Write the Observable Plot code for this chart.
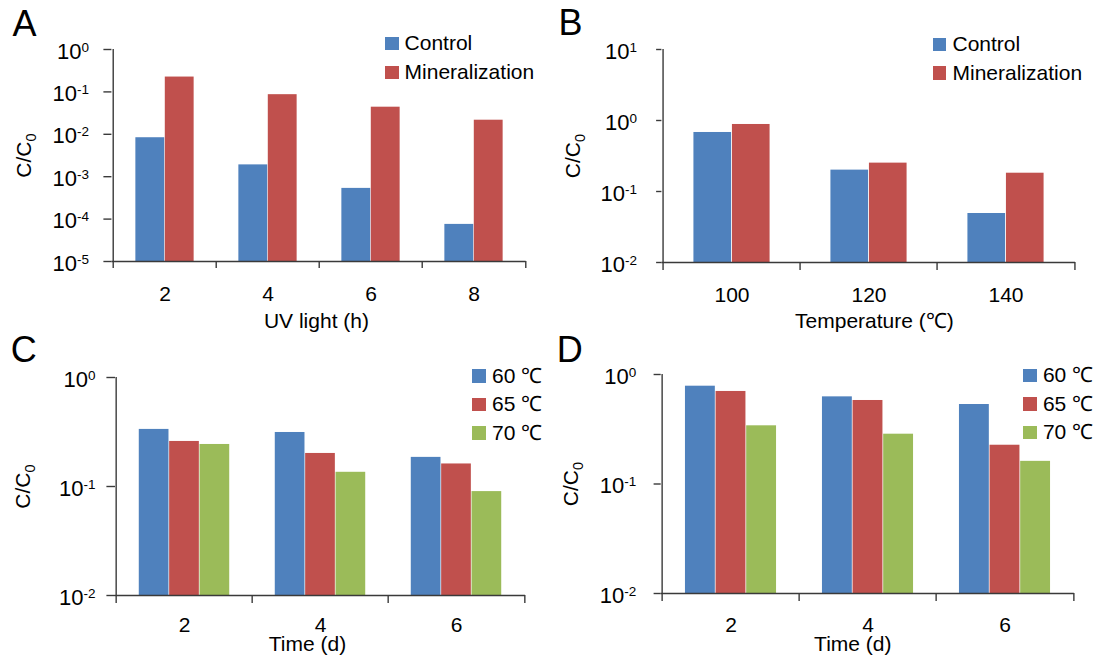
<!DOCTYPE html>
<html><head><meta charset="utf-8">
<script src="https://cdn.jsdelivr.net/npm/d3@7"></script>
<script src="https://cdn.jsdelivr.net/npm/@observablehq/plot@0.6"></script>
<style>
body{margin:0;background:#fff;}
#fig{position:relative;width:1098px;height:659px;overflow:hidden;background:#fff;font-family:"Liberation Sans",Arial,sans-serif;color:#000;}
.panel{position:absolute;}
.letter{position:absolute;font-size:36px;line-height:36px;white-space:nowrap;}
.lg-sw{position:absolute;width:13.5px;height:13.5px;}
.lg-tx{position:absolute;font-size:21px;line-height:21px;white-space:nowrap;}
</style></head><body><div id="fig"></div>
<script>
const blue = "#4F81BD", red = "#C0504D", green = "#9BBB59";
const axisColor = "#3a3a3a";

// Panel A
const catsA = ["2", "4", "6", "8"];
const controlA = [0.0083, 0.0019, 0.00053, 0.000075];
const mineralA = [0.224, 0.086, 0.0436, 0.0215];
const yticksA = [1e-5, 1e-4, 1e-3, 1e-2, 1e-1, 1];
// Panel B
const catsB = ["100", "120", "140"];
const controlB = [0.678, 0.20, 0.049];
const mineralB = [0.879, 0.251, 0.181];
const yticksB = [1e-2, 1e-1, 1, 10];
// Panels C, D
const catsCD = ["2", "4", "6"];
const c60 = [0.334, 0.313, 0.185];
const c65 = [0.259, 0.201, 0.161];
const c70 = [0.243, 0.135, 0.0898];
const d60 = [0.782, 0.625, 0.532];
const d65 = [0.70, 0.579, 0.226];
const d70 = [0.34, 0.285, 0.161];
const yticksCD = [1e-2, 1e-1, 1];
const seriesAB = ["Control", "Mineralization"];
const seriesCD = ["60 ℃", "65 ℃", "70 ℃"];

const fig = document.getElementById("fig");
const NS = "http://www.w3.org/2000/svg";

function panel(o) {
  const rows = [];
  o.series.forEach(s => o.cats.forEach((c, i) => rows.push({cat: c, series: s.name, value: s.values[i]})));
  const bw = (o.width - o.ml - o.mr) / o.cats.length;
  const m = o.series.length, p = o.pad, f = 1 / (m + 2 * p);
  const bars = o.series.map((s, k) => Plot.barY(rows.filter(r => r.series === s.name), {
    x: "cat", y1: o.ymin, y2: "value", fill: s.color,
    insetLeft: bw * (p + k) * f, insetRight: bw * (m - k - 1 + p) * f
  }));
  const chart = Plot.plot({
    width: o.width, height: o.height,
    marginLeft: o.ml, marginRight: o.mr, marginTop: o.mt, marginBottom: o.mb,
    style: {fontFamily: '"Liberation Sans", Arial, sans-serif', fontSize: "21px", color: "#000", background: "transparent", overflow: "visible"},
    x: {domain: o.cats, padding: 0},
    y: {type: "log", domain: [o.ymin, o.ymax]},
    marks: [
      ...bars,
      Plot.ruleY([o.ymin], {stroke: axisColor, strokeWidth: 1.4}),
      Plot.ruleX([o.cats[0]], {dx: -bw / 2, stroke: axisColor, strokeWidth: 1.4}),
      Plot.axisY({ticks: o.yticks, tickSize: o.ytickLen, tickFormat: () => "", stroke: axisColor, strokeWidth: 1.4, label: null}),
      Plot.axisY({ticks: o.yticks, tickSize: 0, tickPadding: o.ylabPad, fontSize: 22, dy: 2,
        tickFormat: d => "10^" + Math.round(Math.log10(d)), label: null}),
      Plot.axisX({ticks: o.cats, tickSize: o.xtickLen, tickFormat: () => "", dx: -bw / 2, stroke: axisColor, strokeWidth: 1.4, label: null}),
      Plot.axisX({ticks: [o.cats[o.cats.length - 1]], tickSize: o.xtickLen, tickFormat: () => "", dx: bw / 2, stroke: axisColor, strokeWidth: 1.4, label: null}),
      Plot.axisX({ticks: o.cats, tickSize: 0, tickPadding: o.xlabPad, fontSize: 21, label: null}),
      Plot.text([o.xTitle], {text: d => d, frameAnchor: "bottom", lineAnchor: "middle", textAnchor: "middle", dx: o.xTitleDx, dy: o.xTitleDy, fontSize: 21}),
      Plot.text(["C/C0"], {text: d => d, frameAnchor: "left", lineAnchor: "middle", textAnchor: "middle", rotate: -90, dx: o.yTitleDx, fontSize: 21})
    ]
  });
  // superscripts / subscripts
  chart.querySelectorAll("text").forEach(t => {
    const s = t.textContent;
    const mm = /^10\^(-?\d+)$/.exec(s);
    if (mm) {
      t.textContent = "";
      const a = document.createElementNS(NS, "tspan");
      a.textContent = "10";
      const b = document.createElementNS(NS, "tspan");
      b.textContent = mm[1];
      b.setAttribute("dy", "-7");
      b.setAttribute("font-size", "13.5");
      t.appendChild(a); t.appendChild(b);
    } else if (s === "C/C0") {
      t.textContent = "";
      const a = document.createElementNS(NS, "tspan");
      a.textContent = "C/C";
      const b = document.createElementNS(NS, "tspan");
      b.textContent = "0";
      b.setAttribute("dy", "5");
      b.setAttribute("font-size", "14.5");
      t.appendChild(a); t.appendChild(b);
    }
  });
  const wrap = document.createElement("div");
  wrap.className = "panel";
  wrap.style.left = o.left + "px";
  wrap.style.top = o.top + "px";
  wrap.appendChild(chart);
  fig.appendChild(wrap);

  // panel letter
  const L = document.createElement("div");
  L.className = "letter";
  L.textContent = o.letter;
  L.style.left = o.letterX + "px";
  L.style.top = o.letterY + "px";
  fig.appendChild(L);

  // legend
  o.series.forEach((s, i) => {
    const y = o.lgY + i * o.lgGap;
    const sw = document.createElement("div");
    sw.className = "lg-sw";
    sw.style.left = o.lgX + "px";
    sw.style.top = y + "px";
    sw.style.background = s.color;
    fig.appendChild(sw);
    const tx = document.createElement("div");
    tx.className = "lg-tx";
    tx.textContent = s.name;
    tx.style.left = o.lgTx + "px";
    tx.style.top = (y - 4.3) + "px";
    fig.appendChild(tx);
  });
}

panel({
  letter: "A", letterX: 12.5, letterY: 5.5,
  left: 0, top: 0, width: 549, height: 340, ml: 111.4, mr: 23.3, mt: 49, mb: 79, pad: 0.76,
  cats: catsA,
  series: [{name: seriesAB[0], values: controlA, color: blue}, {name: seriesAB[1], values: mineralA, color: red}],
  ymin: 1e-5, ymax: 1, yticks: yticksA, ytickLen: 8, ylabPad: 23, xtickLen: 7, xlabPad: 25,
  xTitle: "UV light (h)", xTitleDx: -2.6, xTitleDy: 60, yTitleDx: -88,
  lgX: 385, lgTx: 404.6, lgY: 36.7, lgGap: 29
});
panel({
  letter: "B", letterX: 558.6, letterY: 4.5,
  left: 549, top: 0, width: 549, height: 340, ml: 112.4, mr: 23, mt: 49, mb: 78, pad: 0.79,
  cats: catsB,
  series: [{name: seriesAB[0], values: controlB, color: blue}, {name: seriesAB[1], values: mineralB, color: red}],
  ymin: 1e-2, ymax: 10, yticks: yticksB, ytickLen: 5.3, ylabPad: 25, xtickLen: 8, xlabPad: 25,
  xTitle: "Temperature (℃)", xTitleDx: 5.7, xTitleDy: 59, yTitleDx: -89,
  lgX: 932.9, lgTx: 952.5, lgY: 37.7, lgGap: 28.5
});
panel({
  letter: "C", letterX: 10.7, letterY: 331.5,
  left: 0, top: 330, width: 549, height: 329, ml: 115, mr: 24, mt: 47, mb: 64, pad: 0.75,
  cats: catsCD,
  series: [{name: seriesCD[0], values: c60, color: blue}, {name: seriesCD[1], values: c65, color: red}, {name: seriesCD[2], values: c70, color: green}],
  ymin: 1e-2, ymax: 1, yticks: yticksCD, ytickLen: 8.6, ylabPad: 20, xtickLen: 8, xlabPad: 22,
  xTitle: "Time (d)", xTitleDx: -13, xTitleDy: 48.5, yTitleDx: -92,
  lgX: 472.1, lgTx: 492.1, lgY: 369.3, lgGap: 28.4
});
panel({
  letter: "D", letterX: 556.8, letterY: 331.5,
  left: 549, top: 330, width: 549, height: 329, ml: 111.7, mr: 24.1, mt: 44, mb: 66, pad: 0.75,
  cats: catsCD,
  series: [{name: seriesCD[0], values: d60, color: blue}, {name: seriesCD[1], values: d65, color: red}, {name: seriesCD[2], values: d70, color: green}],
  ymin: 1e-2, ymax: 1, yticks: yticksCD, ytickLen: 7.1, ylabPad: 25, xtickLen: 8, xlabPad: 24,
  xTitle: "Time (d)", xTitleDx: -15, xTitleDy: 50.7, yTitleDx: -90,
  lgX: 1023.2, lgTx: 1042.9, lgY: 368.7, lgGap: 28.5
});
</script></body></html>
